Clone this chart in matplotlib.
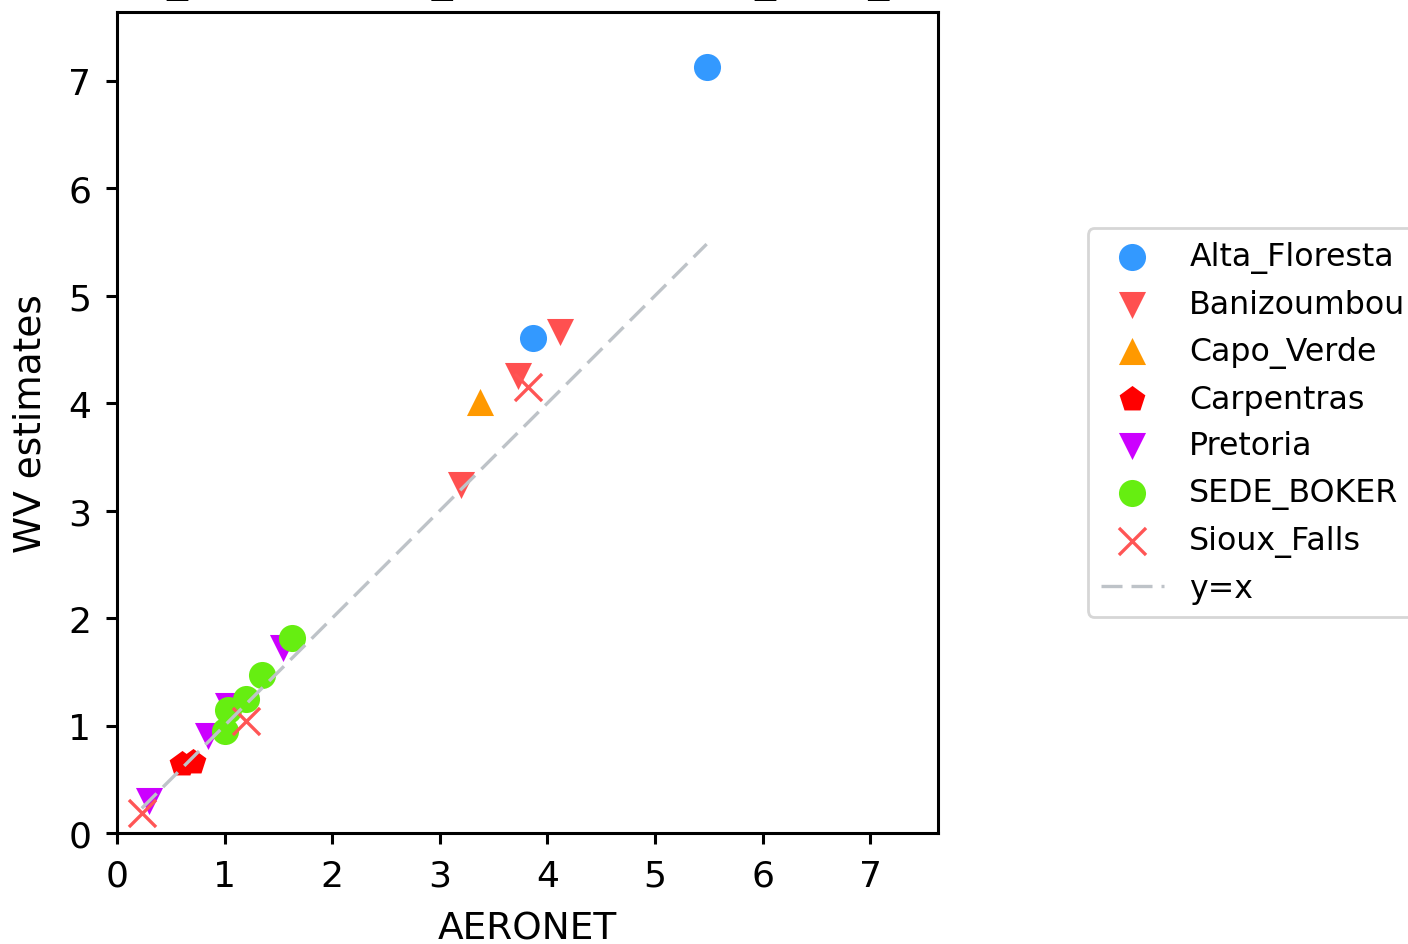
import matplotlib
matplotlib.use("Agg")
import matplotlib.pyplot as plt
import numpy as np

sites = ["Alta_Floresta", "Banizoumbou", "Capo_Verde", "Carpentras",
         "Pretoria", "SEDE_BOKER", "Sioux_Falls"]

alta_x = [5.48, 3.87]
alta_y = [7.13, 4.61]
bani_x = [4.12, 3.73, 3.20]
bani_y = [4.66, 4.25, 3.24]
capo_x = [3.37]
capo_y = [4.01]
carp_x = [0.60, 0.71]
carp_y = [0.64, 0.66]
pret_x = [0.30, 0.85, 1.03, 1.54]
pret_y = [0.30, 0.90, 1.18, 1.72]
sede_x = [1.00, 1.03, 1.20, 1.35, 1.63]
sede_y = [0.95, 1.14, 1.25, 1.47, 1.81]
siou_x = [0.23, 1.20, 3.82]
siou_y = [0.19, 1.04, 4.15]

xs = [alta_x, bani_x, capo_x, carp_x, pret_x, sede_x, siou_x]
ys = [alta_y, bani_y, capo_y, carp_y, pret_y, sede_y, siou_y]
markers = ["o", "v", "^", "p", "v", "o", "x"]
colors = ["#3399ff", "#ff5050", "#ff9900", "#ff0000", "#cc00ff", "#66ee11", "#ff5555"]

ticks = [0, 1, 2, 3, 4, 5, 6, 7]

DPI = 200
fig = plt.figure(figsize=(1408 / DPI, 945 / DPI), dpi=DPI)
ax = fig.add_axes([117 / 1408, 111 / 945, 821 / 1408, 821 / 945])

for name, x, y, m, c in zip(sites, xs, ys, markers, colors):
    if m == "x":
        ax.scatter(x, y, marker=m, s=95, color=c, linewidths=1.2, label=name)
    else:
        ax.scatter(x, y, marker=m, s=95, color=c, linewidths=0, label=name)

allx = np.concatenate([np.array(v) for v in xs])
lo, hi = allx.min(), allx.max()
ax.plot([lo, hi], [lo, hi], linestyle=(0, (6.3, 2.7)), color="#bec3c8",
        linewidth=1.2, label="y=x")

ax.set_xlim(0, 7.63)
ax.set_ylim(0, 7.64)
ax.set_xticks(ticks)
ax.set_yticks(ticks)
ax.tick_params(labelsize=13, width=1.1, length=3.8, pad=5.5)
for sp in ax.spines.values():
    sp.set_linewidth(1.1)
ax.set_xlabel("AERONET", fontsize=13.5, labelpad=6.5)
ax.set_ylabel("WV estimates", fontsize=13.5, labelpad=7)

ax.legend(loc="center left", bbox_to_anchor=(1.1827, 0.5), borderaxespad=0,
          fontsize=11.4)

fig.text(97 / 1408, 1 + 8.9 / 945, "WV_estimations_only AERONET_TPW_mean",
         fontsize=15.1, ha="left", va="baseline")

fig.savefig("out.png", dpi=DPI)
